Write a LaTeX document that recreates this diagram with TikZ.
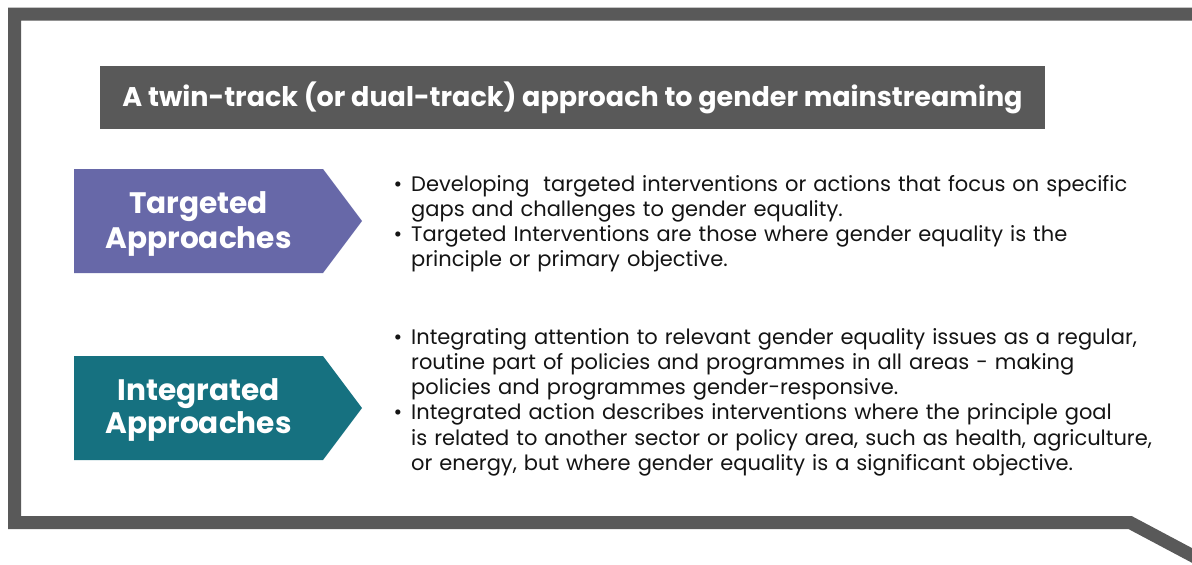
\documentclass[tikz,border=0pt]{standalone}
\usepackage{fontspec}
\setmainfont{Poppins}
\definecolor{framegray}{HTML}{595959}
\definecolor{tgtpurple}{HTML}{6768A8}
\definecolor{intteal}{HTML}{167180}
\definecolor{bodytext}{HTML}{141414}
\begin{document}
\begin{tikzpicture}[x=1pt,y=-1pt,
  labeltext/.style={text=white,text width=280pt,align=center,inner sep=0pt,anchor=base},
  bullettext/.style={text=bodytext,text width=780pt,align=left,inner sep=0pt,anchor=base west,font=\fontsize{21}{25.3}\selectfont},
  bulletdot/.style={text=bodytext,inner sep=0pt,anchor=base,font=\fontsize{21}{25.3}\selectfont}]
\useasboundingbox (0,0) rectangle (1192,565);
\fill[white] (0,0) rectangle (1192,565);
% frame
\draw[framegray,line width=13pt,line join=miter]
  (1200,14) -- (14.5,14) -- (14.5,522.5) -- (1130,522.5) -- (1210,565);
% title
\node[fill=framegray,minimum width=945pt,minimum height=63pt,inner sep=0pt,
  text=white,font=\bfseries\fontsize{27}{30}\selectfont] (title) at (572.5,97.5)
  {A twin-track (or dual-track) approach to gender mainstreaming};
% arrows
\fill[tgtpurple] (74,169) -- (323,169) -- (362,221) -- (323,273) -- (74,273) -- cycle;
\node[labeltext,font=\bfseries\fontsize{29.6}{35}\selectfont] (tgt) at (198.5,213.3) {Targeted\\Approaches};
\fill[intteal] (74,356) -- (323,356) -- (362,408) -- (323,460) -- (74,460) -- cycle;
\node[labeltext,font=\bfseries\fontsize{29.6}{32.7}\selectfont] (int) at (198.5,400.7) {Integrated\\Approaches};
% bullets
\node[bulletdot] (d1) at (398,191) {\textbullet};
\node[bullettext] (t1) at (411,191) {Developing\ \ targeted interventions or actions that focus on specific\\gaps and challenges to gender equality.};
\node[bulletdot] (d2) at (398,241.6) {\textbullet};
\node[bullettext] (t2) at (411,241.6) {Targeted Interventions are those where gender equality is the\\principle or primary objective.};
\node[bulletdot] (d3) at (398,344) {\textbullet};
\node[bullettext] (t3) at (411,344) {Integrating attention to relevant gender equality issues as a regular,\\routine part of policies and programmes in all areas - making\\policies and programmes gender-responsive.};
\node[bulletdot] (d4) at (398,419.9) {\textbullet};
\node[bullettext] (t4) at (411,419.9) {Integrated action describes interventions where the principle goal\\is related to another sector or policy area, such as health, agriculture,\\or energy, but where gender equality is a significant objective.};
\end{tikzpicture}
\end{document}
